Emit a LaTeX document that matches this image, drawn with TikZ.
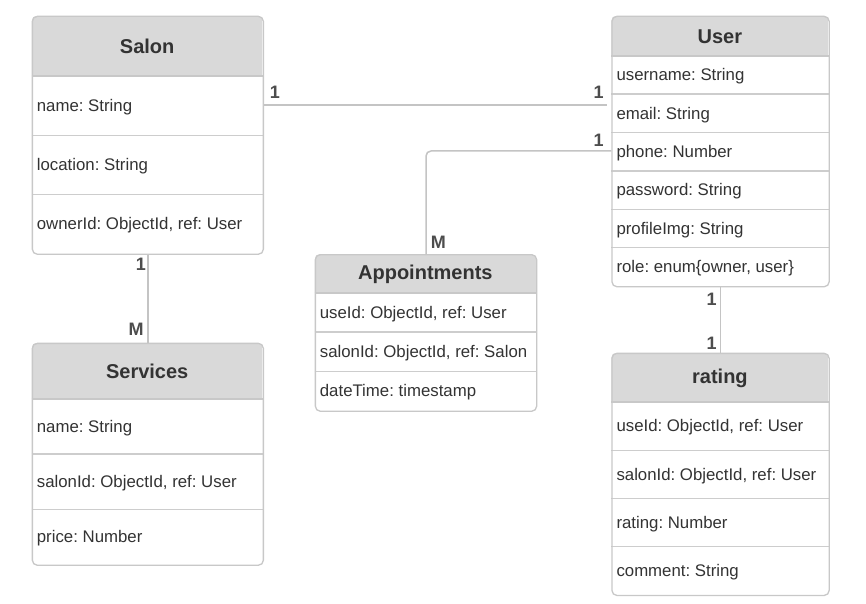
\documentclass[tikz,border=0pt]{standalone}
\usepackage{fontspec}
\setmainfont{Liberation Sans}
\frenchspacing
\definecolor{hdrfill}{HTML}{D9D9D9}
\definecolor{boxline}{HTML}{C8C8C8}
\definecolor{rowgray}{HTML}{CDCDCD}
\definecolor{conngray}{HTML}{C4C4C4}
\definecolor{txt}{HTML}{333333}
\definecolor{lbl}{HTML}{4D4D4D}
\tikzset{
  tablebox/.style={draw=boxline, line width=1.3pt, rounded corners=5pt, inner sep=0pt},
  titletext/.style={font=\fontsize{20}{24}\selectfont\bfseries, text=txt, inner sep=0pt},
  attrtext/.style={font=\fontsize{16.8}{20}\selectfont, text=txt, inner sep=0pt, anchor=west},
  rowline/.style={draw=rowgray, line width=1.3pt},
  hdrline/.style={draw=boxline, line width=2pt},
  conn/.style={draw=conngray, line width=1.5pt},
  mult/.style={font=\fontsize{18}{20}\selectfont\bfseries, text=lbl, inner sep=0pt}
}
% #1 name, #2 left x, #3 top y, #4 width, #5 header height, #6 row height, #7 title, #8 rows, #9 number of rows
\newcommand{\enttable}[9]{%
  \pgfmathsetmacro\tabh{#5+#9*#6}%
  \begin{scope}
    \clip[rounded corners=5pt] (#2,#3) rectangle ({#2+#4},{#3+\tabh});
    \fill[hdrfill] (#2,#3) rectangle ({#2+#4},{#3+#5});
  \end{scope}
  \node[titletext] (#1-title) at ({#2+#4/2},{#3+#5/2+1}) {#7};
  \foreach \r [count=\i] in {#8} {
    \pgfmathsetmacro\ry{#3+#5+(\i-0.5)*#6}
    \coordinate (#1-row\i) at ({#2+5},\ry);
    \node[attrtext] (#1-\i) at ({#2+5},{\ry+1.5}) {\r};
    \ifnum\i>1 \draw[rowline] (#2,{#3+#5+(\i-1)*#6}) -- ++(#4,0); \fi
  }
  \draw[hdrline] (#2,{#3+#5}) -- ++(#4,0);
  \node[tablebox, minimum width=#4pt, minimum height=\tabh pt, anchor=north west] (#1) at (#2,#3) {};
}
\begin{document}
\begin{tikzpicture}[x=1pt,y=-1pt]
\useasboundingbox (0,0) rectangle (866,604);
\fill[white] (0,0) rectangle (866,604);

\enttable{salon}{31.7}{15.7}{231}{60.3}{59.2}{Salon}{{name: String},{location: String},{ownerId: ObjectId, ref: User}}{3}
\enttable{user}{611.3}{15.7}{217.2}{40}{38.4}{User}{{username: String},{email: String},{phone: Number},{password: String},{profileImg: String},{role: enum\{owner, user\}}}{6}
\enttable{appt}{314.7}{254}{221.3}{38.7}{39.3}{Appointments}{{useId: ObjectId, ref: User},{salonId: ObjectId, ref: Salon},{dateTime: timestamp}}{3}
\enttable{services}{31.7}{342.7}{231}{56}{55.3}{Services}{{name: String},{salonId: ObjectId, ref: User},{price: Number}}{3}
\enttable{rating}{611.3}{352.7}{217.2}{49.3}{48.2}{rating}{{useId: ObjectId, ref: User},{salonId: ObjectId, ref: User},{rating: Number},{comment: String}}{4}

% connectors
\draw[conn, shorten >=4pt] ([yshift=0.6pt]salon.east |- salon-row1) -- ([yshift=0.6pt]user.west |- salon-row1);
\draw[conn, rounded corners=5pt] ([yshift=0.7pt]user.west |- user-row3) -| (appt.north);
\draw[conn] (salon.south) -- (services.north);
\draw[conn] (user.south) -- (rating.north);

% multiplicities
\node[mult] (m1) at (275,92.8) {1};
\node[mult] (m2) at (598.7,92.8) {1};
\node[mult] (m3) at (598.7,140.5) {1};
\node[mult] (m4) at (438.3,242) {M};
\node[mult] (m5) at (141,264.5) {1};
\node[mult] (m6) at (136,329.5) {M};
\node[mult] (m7) at (711.7,299.8) {1};
\node[mult] (m8) at (711.7,343.5) {1};
\end{tikzpicture}
\end{document}
